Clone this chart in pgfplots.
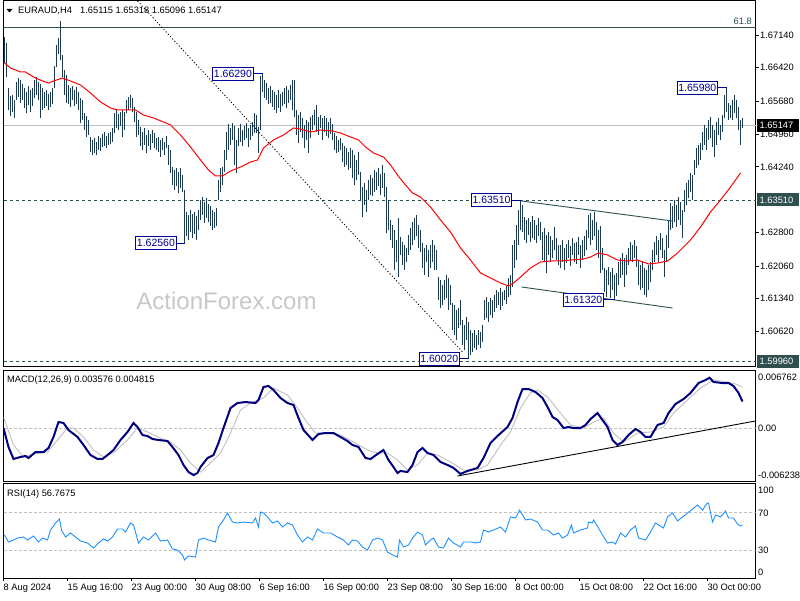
\documentclass[border=0pt]{standalone}
\usepackage{fontspec}
\setmainfont{Liberation Sans}
\usepackage{pgfplots}
\pgfplotsset{compat=1.18}
\usepackage{pgfplotstable}
\definecolor{barcol}{RGB}{28,58,80}
\definecolor{slate}{RGB}{47,79,79}
\definecolor{macdblue}{RGB}{0,0,128}
\definecolor{sigsilver}{RGB}{192,192,192}
\definecolor{rsiblue}{RGB}{30,144,255}
\definecolor{lvlgray}{RGB}{192,192,192}
\definecolor{labelblue}{RGB}{0,0,150}
\definecolor{wm}{RGB}{200,200,200}
\newcommand\tf{\fontsize{9.3}{11}\selectfont}
\newcommand\lblfont{\fontsize{10.5}{12}\selectfont}

\pgfplotstableread{
i h l
0 1.67096 1.66524
1 1.66964 1.66216
2 1.65974 1.6549
3 1.65798 1.65358
4 1.6582 1.65446
5 1.6571 1.65314
6 1.66106 1.6571
7 1.66194 1.65776
8 1.6615 1.65644
9 1.66062 1.6571
10 1.65974 1.65534
11 1.65886 1.65424
12 1.66018 1.656
13 1.6593 1.65446
14 1.65974 1.65578
15 1.6615 1.65754
16 1.66216 1.6582
17 1.66106 1.6571
18 1.66062 1.65314
19 1.65974 1.6549
20 1.65886 1.65534
21 1.6593 1.65578
22 1.65842 1.6549
23 1.65886 1.65556
24 1.65974 1.65622
25 1.66458 1.65974
26 1.6692 1.66436
27 1.67074 1.66722
28 1.67448 1.6659
29 1.667 1.66216
30 1.6637 1.6582
31 1.6626 1.65644
32 1.6604 1.65622
33 1.65974 1.65556
34 1.66018 1.6571
35 1.6593 1.65578
36 1.65996 1.65622
37 1.65886 1.6549
38 1.65754 1.65204
39 1.6571 1.6527
40 1.65424 1.6505
41 1.65358 1.64896
42 1.6527 1.6494
43 1.64896 1.64566
44 1.6483 1.645
45 1.64874 1.64544
46 1.64786 1.645
47 1.64918 1.6461
48 1.64874 1.64588
49 1.64962 1.64676
50 1.65006 1.64698
51 1.64918 1.64654
52 1.64984 1.6472
53 1.65006 1.64742
54 1.65094 1.64786
55 1.65424 1.64984
56 1.6549 1.65094
57 1.65402 1.6505
58 1.65446 1.65138
59 1.6549 1.64896
60 1.65446 1.6505
61 1.6571 1.65424
62 1.65776 1.6549
63 1.6582 1.65534
64 1.65754 1.65446
65 1.65556 1.65226
66 1.65446 1.64896
67 1.6527 1.6494
68 1.65116 1.64698
69 1.65006 1.6461
70 1.65094 1.6472
71 1.6494 1.64544
72 1.6505 1.64698
73 1.64962 1.6461
74 1.6505 1.64764
75 1.64984 1.64654
76 1.64874 1.6461
77 1.64896 1.64566
78 1.6483 1.64456
79 1.64874 1.6461
80 1.64786 1.645
81 1.64918 1.64654
82 1.6472 1.6428
83 1.6461 1.64104
84 1.64236 1.6384
85 1.6417 1.6373
86 1.64214 1.63818
87 1.64126 1.63664
88 1.64214 1.63774
89 1.6406 1.63686
90 1.6373 1.6256
91 1.63246 1.62718
92 1.6318 1.6263
93 1.6329 1.62806
94 1.63202 1.62674
95 1.63246 1.62762
96 1.63158 1.6263
97 1.6329 1.6285
98 1.6351 1.6307
99 1.63576 1.6318
100 1.63466 1.63004
101 1.63554 1.63114
102 1.63422 1.63026
103 1.63378 1.62938
104 1.6329 1.6285
105 1.63246 1.62894
106 1.63334 1.62938
107 1.6395 1.6351
108 1.64214 1.63686
109 1.64236 1.6384
110 1.6461 1.64126
111 1.65006 1.6439
112 1.65182 1.6461
113 1.65094 1.6472
114 1.65204 1.6483
115 1.65138 1.6428
116 1.6483 1.64104
117 1.65094 1.64698
118 1.65182 1.64786
119 1.6505 1.64698
120 1.65138 1.6483
121 1.65204 1.64874
122 1.65094 1.64676
123 1.6516 1.6483
124 1.65226 1.64918
125 1.65424 1.64984
126 1.6538 1.64984
127 1.65116 1.64544
128 1.66238 1.6505
129 1.6629 1.65886
130 1.6615 1.65754
131 1.66084 1.6571
132 1.65974 1.65622
133 1.66018 1.65644
134 1.6593 1.65556
135 1.65886 1.6549
136 1.6582 1.65424
137 1.6593 1.65534
138 1.65842 1.65446
139 1.65886 1.65578
140 1.65974 1.65622
141 1.66018 1.65534
142 1.6593 1.65644
143 1.6604 1.6571
144 1.6615 1.6549
145 1.6615 1.65336
146 1.6549 1.6494
147 1.6538 1.64764
148 1.65446 1.65006
149 1.65314 1.64874
150 1.6516 1.64654
151 1.6527 1.6483
152 1.65226 1.64544
153 1.65336 1.64874
154 1.6538 1.6505
155 1.6549 1.6516
156 1.656 1.65006
157 1.65336 1.6494
158 1.6538 1.65094
159 1.65314 1.6483
160 1.65358 1.65006
161 1.65314 1.64918
162 1.65226 1.64874
163 1.65314 1.64962
164 1.65182 1.6483
165 1.64984 1.6461
166 1.64918 1.64544
167 1.6483 1.64566
168 1.64874 1.6461
169 1.64764 1.64346
170 1.64698 1.64236
171 1.64654 1.6428
172 1.64566 1.6417
173 1.64654 1.64214
174 1.6461 1.63994
175 1.645 1.6384
176 1.6439 1.6395
177 1.64566 1.6406
178 1.64126 1.6351
179 1.63796 1.63136
180 1.63884 1.634
181 1.6373 1.63246
182 1.6395 1.6351
183 1.6406 1.6362
184 1.63994 1.63598
185 1.6417 1.63686
186 1.64126 1.6373
187 1.64214 1.63818
188 1.64082 1.6362
189 1.6428 1.63774
190 1.64104 1.63576
191 1.63796 1.62784
192 1.6351 1.6285
193 1.6307 1.6263
194 1.6296 1.62454
195 1.6285 1.6197
196 1.6263 1.62146
197 1.63114 1.61816
198 1.62696 1.623
199 1.62586 1.6208
200 1.6252 1.6197
201 1.62454 1.62146
202 1.6274 1.623
203 1.62894 1.6241
204 1.63026 1.6252
205 1.63114 1.6263
206 1.6318 1.62718
207 1.6296 1.62454
208 1.6285 1.62366
209 1.62564 1.62014
210 1.62454 1.6186
211 1.6252 1.62146
212 1.6241 1.61816
213 1.6252 1.62014
214 1.6263 1.62146
215 1.6252 1.6197
216 1.6241 1.6197
217 1.61816 1.6131
218 1.6175 1.61134
219 1.6164 1.612
220 1.6175 1.6131
221 1.6186 1.61354
222 1.61794 1.6109
223 1.6164 1.612
224 1.61244 1.6065
225 1.612 1.6054
226 1.6109 1.6043
227 1.61134 1.60694
228 1.6131 1.6076
229 1.6087 1.6032
230 1.6076 1.6021
231 1.60936 1.6043
232 1.60826 1.6002
233 1.6065 1.601
234 1.60584 1.60166
235 1.6065 1.60254
236 1.6054 1.6021
237 1.6065 1.6032
238 1.60606 1.60254
239 1.6076 1.60386
240 1.6131 1.6087
241 1.61376 1.60914
242 1.61266 1.60826
243 1.61354 1.6098
244 1.6131 1.60914
245 1.6142 1.61046
246 1.6153 1.61134
247 1.61486 1.612
248 1.61574 1.6109
249 1.61486 1.61178
250 1.6153 1.6131
251 1.61618 1.61222
252 1.61794 1.61376
253 1.6186 1.6142
254 1.6252 1.61596
255 1.6263 1.62014
256 1.6296 1.6219
257 1.6329 1.6252
258 1.6351 1.6285
259 1.634 1.62806
260 1.63136 1.6263
261 1.6307 1.62564
262 1.63114 1.6274
263 1.63026 1.62586
264 1.63158 1.62674
265 1.6307 1.6263
266 1.6296 1.62564
267 1.63114 1.62718
268 1.63026 1.6263
269 1.62806 1.6219
270 1.62894 1.62146
271 1.6274 1.61904
272 1.62806 1.623
273 1.62718 1.62146
274 1.6263 1.62234
275 1.62916 1.6241
276 1.62674 1.6219
277 1.6252 1.6208
278 1.6252 1.62014
279 1.6263 1.62146
280 1.62454 1.6197
281 1.62542 1.62124
282 1.6263 1.62234
283 1.62498 1.62058
284 1.62674 1.623
285 1.62564 1.62146
286 1.62586 1.62102
287 1.62696 1.623
288 1.6252 1.62014
289 1.6263 1.6219
290 1.62718 1.62278
291 1.6285 1.6241
292 1.6318 1.62674
293 1.63224 1.6252
294 1.6307 1.6263
295 1.63246 1.62718
296 1.63026 1.6241
297 1.6285 1.62234
298 1.62938 1.61904
299 1.62454 1.6197
300 1.62014 1.61486
301 1.6197 1.61376
302 1.62036 1.6164
303 1.61926 1.61354
304 1.62014 1.6153
305 1.6186 1.6132
306 1.61904 1.61398
307 1.62146 1.6164
308 1.62234 1.61794
309 1.62344 1.6186
310 1.62234 1.61596
311 1.623 1.6186
312 1.62454 1.6208
313 1.62586 1.6219
314 1.6252 1.62146
315 1.6263 1.62234
316 1.62498 1.62036
317 1.6219 1.6164
318 1.6208 1.6153
319 1.62146 1.61574
320 1.62014 1.6142
321 1.6197 1.61376
322 1.6208 1.6153
323 1.62146 1.61706
324 1.6241 1.6197
325 1.62586 1.62146
326 1.62718 1.623
327 1.6263 1.62146
328 1.62784 1.6241
329 1.62674 1.62234
330 1.6241 1.61816
331 1.6274 1.62146
332 1.6307 1.62454
333 1.63444 1.6285
334 1.63378 1.62894
335 1.6351 1.63026
336 1.634 1.62916
337 1.63576 1.6307
338 1.63466 1.6296
339 1.6329 1.62674
340 1.6373 1.63246
341 1.63884 1.634
342 1.6395 1.63554
343 1.64104 1.63686
344 1.6406 1.6351
345 1.6439 1.6406
346 1.64654 1.64214
347 1.6472 1.6428
348 1.64764 1.6439
349 1.65006 1.6461
350 1.6516 1.6472
351 1.65094 1.6461
352 1.6527 1.6483
353 1.65336 1.64874
354 1.6516 1.64676
355 1.6505 1.64456
356 1.65226 1.6472
357 1.65314 1.6494
358 1.6516 1.6483
359 1.6538 1.65006
360 1.6582 1.65314
361 1.6598 1.65446
362 1.65644 1.6527
363 1.656 1.65314
364 1.6571 1.6527
365 1.6582 1.65424
366 1.6571 1.65314
367 1.65556 1.6505
368 1.6527 1.6472
369 1.65318 1.65096
}\bars

\pgfplotstableread{
i ma
0 1.66524
3 1.66414
8 1.66326
10.5 1.66326
14.5 1.66216
19 1.66128
22 1.66084
24.5 1.66128
29 1.66194
33 1.66128
38 1.6604
43 1.65864
48 1.65666
53 1.65534
56.5 1.6549
63 1.6549
65.5 1.6549
69.5 1.6538
74.5 1.65314
79.5 1.65226
83 1.6516
88 1.6494
93 1.64676
98 1.6439
102 1.6417
105.5 1.64038
109 1.64038
113 1.64148
118 1.64236
123 1.64346
126.5 1.6439
129.5 1.64654
134.5 1.6483
139.5 1.6494
144.5 1.65094
148 1.65072
153 1.65006
158 1.6505
164 1.65028
168 1.64984
173 1.64896
177 1.6483
180.5 1.64676
184.5 1.64544
189.5 1.64456
193 1.6428
196.5 1.6406
200.5 1.6384
204 1.63664
208 1.63576
213 1.63356
218 1.6307
223 1.62806
228 1.62454
233 1.6219
238 1.61904
243 1.61794
248 1.61684
252 1.61618
254.5 1.61684
258 1.61816
263 1.62014
268 1.62146
273 1.62168
278 1.62168
283 1.6219
289.5 1.62212
293 1.62256
297 1.62344
301.5 1.623
306.5 1.6219
311.5 1.62168
316.5 1.6219
322 1.62102
326.5 1.62124
331.5 1.62168
336.5 1.62344
343 1.6263
348 1.62916
353 1.63246
358 1.6351
363 1.63796
368 1.64104
}\matab

\pgfplotstableread{
i m
-0.5 0.00004
2 -0.0025
4.5 -0.0041
8 -0.00383
10.5 -0.0037
12 -0.00397
15.5 -0.00317
19.5 -0.00317
22 -0.00263
24.5 -0.00116
27 0.00084
29.5 0.00071
32 -0.00023
36.5 -0.00116
39.5 -0.00223
43 -0.00357
46.5 -0.0041
49 -0.0041
51.5 -0.00357
54.5 -0.0029
58 -0.00156
61.5 -0.00049
64.5 0.00071
66.5 0.00017
69 -0.0009
71.5 -0.00103
74 -0.00143
77 -0.00156
81.5 -0.0017
84 -0.0025
87 -0.00357
89.5 -0.0049
92 -0.00584
94.5 -0.00624
96.5 -0.00597
98 -0.00517
101.5 -0.00397
104.5 -0.00357
107 -0.00196
109.5 0.00004
113 0.00271
116.5 0.00338
120.5 0.00351
125.5 0.00338
127 0.00378
129.5 0.00552
132 0.00565
134.5 0.00512
138 0.00405
141.5 0.00338
144.5 0.00311
147 0.00138
149.5 -0.00023
154 -0.00156
157 -0.00076
160.5 -0.00063
164.5 -0.00063
168 -0.00116
171.5 -0.0017
174 -0.00223
177 -0.0025
180.5 -0.00397
183 -0.0041
186.5 -0.00343
189.5 -0.0029
192 -0.00424
194.5 -0.00517
196.5 -0.00597
198 -0.0057
201.5 -0.00584
204 -0.0049
206.5 -0.00317
209 -0.00263
211.5 -0.0033
214.5 -0.00357
218 -0.0045
221.5 -0.0049
224.5 -0.0053
228 -0.0061
231.5 -0.0057
236.5 -0.0053
239.5 -0.00397
243 -0.00196
247 -0.0009
251.5 0.00017
254 0.00138
256.5 0.00351
259 0.00525
262 0.00525
265.5 0.00485
269 0.00405
271.5 0.00285
274 0.00151
276.5 0.00111
279.5 0.00004
282 0.00017
284.5 0.00004
288 0.00004
290.5 0.00044
293 0.00124
296.5 0.00204
299 0.00111
301.5 0.00017
304 -0.00156
306.5 -0.00223
309 -0.00183
312 -0.0009
315.5 -0.00009
318 -0.00049
320.5 -0.00116
323 -0.00116
326.5 0.00044
329.5 0.00071
332 0.00204
335.5 0.00325
339.5 0.00391
343 0.00472
347 0.00605
350.5 0.00645
352.5 0.00676
354.5 0.00619
359 0.00605
362 0.00605
364.5 0.00565
367 0.00472
369 0.003576
}\macdtab

\pgfplotstableread{
i s
-0.5 0.00151
4.5 -0.00223
9.5 -0.00383
14.5 -0.00343
21.5 -0.00317
26.5 -0.00156
31.5 0.00004
34.5 0.00004
39.5 -0.00116
44.5 -0.0029
49.5 -0.00383
54.5 -0.0033
61.5 -0.00156
66.5 0.00004
71.5 -0.00049
78 -0.0013
83 -0.00183
88 -0.0029
93 -0.00464
98 -0.00584
103 -0.00464
108 -0.0033
113 -0.00063
118 0.00244
123 0.00338
129.5 0.00405
134.5 0.00538
141.5 0.00445
146.5 0.00271
151.5 0.00071
155.5 -0.00063
161.5 -0.00063
168 -0.0009
174.5 -0.00183
181.5 -0.0029
186.5 -0.0033
191.5 -0.0033
196.5 -0.00424
201.5 -0.00557
206.5 -0.0049
211.5 -0.0033
216.5 -0.00357
223 -0.0045
229.5 -0.00557
236.5 -0.00557
241.5 -0.0049
248 -0.00223
253 -0.00049
258 0.00271
263 0.00472
266.5 0.00512
271.5 0.00418
278 0.00204
283 0.00044
289.5 0.00004
294.5 0.00084
299.5 0.00138
304.5 -0.00063
309.5 -0.00183
316.5 -0.00063
323 -0.00049
329.5 0.00017
334.5 0.00204
341.5 0.00378
348 0.00538
354.5 0.00645
361.5 0.00619
366 0.00590
369 0.0055
}\sigtab

\pgfplotstableread{
i r
0 45.9
2 38.5
4.5 40.6
6.5 42.7
9.5 43.8
11.5 40.6
14.5 44.9
17 38.5
19 42.7
21.5 40.6
23 51.3
25.5 58.8
27.5 63.0
28.5 51.3
30.5 43.8
33 48.1
35.5 43.8
38 39.5
41.5 37.4
44.5 32.1
47 37.4
49.5 41.7
51.5 39.5
54 43.8
56.5 52.4
59 52.4
60.5 49.1
63 58.8
64.5 56.6
67 37.4
69.5 43.8
72 40.6
75.5 48.1
78 39.5
81.5 40.6
84 31.0
86.5 29.9
89 24.6
90 19.2
92 23.5
95.5 22.4
97 40.6
99.5 42.7
102 40.6
105.5 38.5
107 54.5
109.5 62.0
111.5 69.4
114 59.8
116.5 58.8
119.5 59.8
124 58.8
125.5 64.1
127 54.5
128 70.5
129.5 69.4
131.5 65.2
134 58.8
136.5 60.9
139 54.5
141.5 58.8
144 56.6
146.5 45.9
149 38.5
151.5 43.8
154 40.6
156.5 52.4
159.5 48.1
163 48.1
166.5 43.8
169.5 40.6
172 35.3
174 40.6
176.5 39.5
179 33.1
181.5 29.9
184 40.6
186.5 42.7
189 40.6
191.5 27.8
194 24.6
196.5 22.4
197.5 40.6
199.5 33.1
202 35.3
204 42.7
206.5 49.1
209 45.9
210.5 35.3
213 40.6
214.5 42.7
217 33.1
219.5 32.1
222 42.7
224.5 37.4
228 33.1
229.5 38.5
233 38.5
235.5 37.4
238 38.5
239.5 51.3
242 49.1
244.5 51.3
248 54.5
250.5 49.1
253 65.2
255.5 64.1
257.5 72.6
260.5 62.0
263 63.0
266.5 59.8
269 51.3
271.5 51.3
274.5 45.9
277 48.1
279 42.7
281.5 45.9
283.5 56.6
284.5 48.1
288 51.3
291.5 53.4
292 59.8
294 58.8
294.5 62.0
297 53.4
299 45.9
301.5 37.4
304 38.5
305.5 36.3
308 48.1
310.5 43.8
313 51.3
315.5 55.6
317 42.7
320.5 40.6
323 49.1
325.5 58.8
329.5 53.4
331.5 65.2
334 69.4
336.5 60.9
339 65.2
341.5 69.4
344 73.7
346.5 78.0
349 72.6
351 79.1
352 80.1
354 59.8
355.5 67.3
358 65.2
360.5 71.6
362 64.1
364.5 64.1
366.5 57.7
368 55.6
369 56.77
}\rsitab

\pgfplotsset{
  panel/.style={
    scale only axis, width=752pt, xmin=-0.5, xmax=375.5,
    axis line style={line width=1pt, black},
    tick style={black, line width=0.8pt},
    ticklabel style={font=\tf, inner sep=0pt},
    scaled y ticks=false,
    yticklabel style={anchor=west},
  },
}
\tikzset{
  lbl/.style={draw=labelblue, fill=white, text=labelblue, line width=0.8pt,
    inner xsep=1.2pt, inner ysep=0pt, minimum height=13pt, font=\lblfont},
  rbox/.style={anchor=west, text=white, inner xsep=2.5pt, inner ysep=0pt,
    minimum height=13pt, text width=37pt, align=left, font=\tf},
  rlab/.style={anchor=west, inner sep=0pt, font=\tf},
}

\begin{document}
\begin{tikzpicture}
\fill[white] (0pt,0pt) rectangle (800pt,600pt);
\node[anchor=base, font=\fontsize{24}{26}\selectfont, text=wm, inner sep=0pt] at (226.5pt,290pt) {ActionForex.com};

% ---------------- main price panel
\begin{axis}[panel, at={(3.5pt,233pt)}, anchor=south west, height=366pt,
  ymin=1.59836, ymax=1.67888, clip=false,
  xtick=\empty,
  ytick={1.6714,1.6642,1.6568,1.6496,1.6424,1.628,1.6206,1.6134,1.6062},
  yticklabels={1.67140,1.66420,1.65680,1.64960,1.64240,1.62800,1.62060,1.61340,1.60620},
  ytick pos=right, yticklabel pos=right, tick align=outside, major tick length=3pt,
  yticklabel style={xshift=1.5pt}]
\draw[lvlgray, line width=0.8pt] (axis cs:-0.5,1.65147) -- (axis cs:375.5,1.65147);
\draw[slate, line width=0.8pt] (axis cs:-0.5,1.67316) -- (axis cs:375.5,1.67316);
\draw[slate, line width=0.8pt, dash pattern=on 3pt off 3pt] (axis cs:-0.5,1.6351) -- (axis cs:375.5,1.6351);
\draw[slate, line width=0.8pt, dash pattern=on 3pt off 3pt] (axis cs:-0.5,1.5996) -- (axis cs:375.5,1.5996);
\addplot[draw=none, mark=none, forget plot,
  error bars/.cd, y dir=both, y explicit, error mark=none,
  error bar style={draw=barcol, line width=1pt, solid}]
  table[x=i, y expr={(\thisrow{h}+\thisrow{l})/2}, y error expr={(\thisrow{h}-\thisrow{l})/2}] {\bars};
\addplot[red, line width=1pt, mark=none] table[x=i, y=ma] {\matab};
\addplot[black, line width=0.8pt, mark=none, dash pattern=on 1.2pt off 2pt] coordinates {(66.5,1.67888) (229,1.60166)};
\addplot[slate, line width=0.9pt, mark=none] coordinates {(258.5,1.63488) (334,1.63048)};
\addplot[slate, line width=0.9pt, mark=none] coordinates {(258.5,1.61596) (334,1.61134)};
% peak / trough labels
\draw[labelblue, line width=0.8pt] (axis cs:124.5,1.6629) -- (axis cs:129,1.6629);
\node[lbl, anchor=east] at (axis cs:124.5,1.6629) {1.66290};
\draw[labelblue, line width=0.8pt] (axis cs:86,1.6256) -- (axis cs:90,1.6256);
\node[lbl, anchor=east] at (axis cs:86,1.6256) {1.62560};
\draw[labelblue, line width=0.8pt] (axis cs:227.7,1.6002) -- (axis cs:232,1.6002);
\node[lbl, anchor=east] at (axis cs:227.7,1.6002) {1.60020};
\draw[labelblue, line width=0.8pt] (axis cs:253.8,1.6351) -- (axis cs:258,1.6351);
\node[lbl, anchor=east] at (axis cs:253.8,1.6351) {1.63510};
\draw[labelblue, line width=0.8pt] (axis cs:299.7,1.6132) -- (axis cs:305,1.6132);
\node[lbl, anchor=east] at (axis cs:299.7,1.6132) {1.61320};
\draw[labelblue, line width=0.8pt] (axis cs:356.7,1.6598) -- (axis cs:361,1.6598);
\node[lbl, anchor=east] at (axis cs:356.7,1.6598) {1.65980};
\coordinate (cp) at (axis cs:375.5,1.65147);
\coordinate (l1) at (axis cs:375.5,1.6351);
\coordinate (l2) at (axis cs:375.5,1.5996);
\end{axis}

% ---------------- MACD panel
\begin{axis}[panel, at={(3.5pt,119pt)}, anchor=south west, height=111pt,
  ymin=-0.00704, ymax=0.00779,
  xtick=\empty,
  ytick={0.006762,0,-0.006238},
  yticklabels={0.006762,0.00,-0.006238},
  ytick pos=right, yticklabel pos=right, major tick length=0pt,
  yticklabel style={xshift=2.5pt}]
\draw[lvlgray, line width=0.8pt, dash pattern=on 3pt off 2pt] (axis cs:-0.5,0) -- (axis cs:375.5,0);
\addplot[sigsilver, line width=0.9pt, mark=none] table[x=i, y=s] {\sigtab};
\addplot[macdblue, line width=2pt, mark=none] table[x=i, y=m] {\macdtab};
\addplot[black, line width=0.9pt, mark=none] coordinates {(226.5,-0.00637) (375.5,0.00098)};
\end{axis}

% ---------------- RSI panel
\begin{axis}[panel, at={(3.5pt,22pt)}, anchor=south west, height=95pt,
  ymin=0, ymax=101.5,
  xtick={-0.5,31.5,63.5,95.5,127.5,159.5,191.5,223.5,255.5,287.5,319.5,351.5},
  xticklabels={8 Aug 2024,15 Aug 16:00,23 Aug 00:00,30 Aug 08:00,6 Sep 16:00,16 Sep 00:00,23 Sep 08:00,30 Sep 16:00,8 Oct 00:00,15 Oct 08:00,22 Oct 16:00,30 Oct 00:00},
  xtick pos=left, tick align=outside,
  xticklabel style={anchor=north west, yshift=-3pt},
  ytick=\empty,
  major tick length=3pt]
\draw[lvlgray, line width=0.8pt, dash pattern=on 3pt off 2pt] (axis cs:-0.5,30) -- (axis cs:375.5,30);
\draw[lvlgray, line width=0.8pt, dash pattern=on 3pt off 2pt] (axis cs:-0.5,70) -- (axis cs:375.5,70);
\addplot[rsiblue, line width=0.9pt, mark=none] table[x=i, y=r] {\rsitab};
\end{axis}

% ---------------- RSI scale labels
\node[rlab] at (758pt,110pt) {100};
\node[rlab] at (758pt,87pt) {70};
\node[rlab] at (758pt,50pt) {30};
\node[rlab] at (758pt,28pt) {0};

% ---------------- right-side price boxes
\node[rbox, fill=black] at ([xshift=1.5pt]cp) {1.65147};
\node[rbox, fill=slate] at ([xshift=1.5pt]l1) {1.63510};
\node[rbox, fill=slate] at ([xshift=1.5pt]l2) {1.59960};

% ---------------- panel titles
\fill[black] (6.5pt,591pt) -- (12.5pt,591pt) -- (9.5pt,587.5pt) -- cycle;
\node[anchor=base west, inner sep=0pt, font=\tf] at (18pt,586pt) {EURAUD,H4};
\node[anchor=base west, inner sep=0pt, font=\tf] at (80pt,586pt) {1.65115 1.65318 1.65096 1.65147};
\node[anchor=base east, inner sep=0pt, font=\tf, text=slate] at (752pt,575pt) {61.8};
\node[anchor=base west, inner sep=0pt, font=\tf] at (7pt,217pt) {MACD(12,26,9) 0.003576 0.004815};
\node[anchor=base west, inner sep=0pt, font=\tf] at (7pt,104pt) {RSI(14) 56.7675};

\pgfresetboundingbox
\path (0pt,0pt) rectangle (800pt,600pt);
\end{tikzpicture}
\end{document}
